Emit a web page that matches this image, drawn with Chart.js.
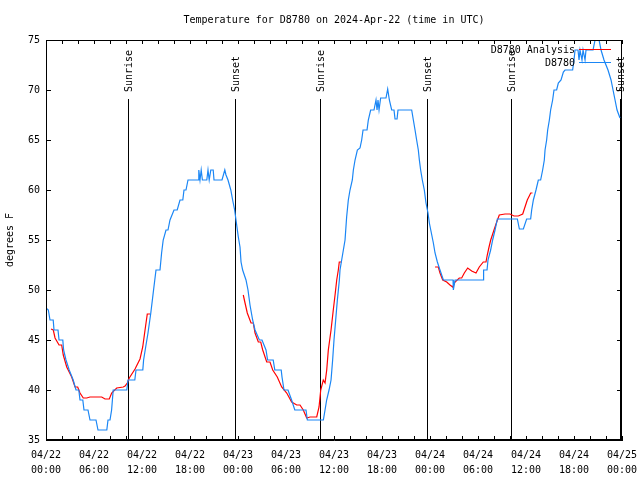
<!DOCTYPE html>
<html>
<head>
<meta charset="utf-8">
<script src="https://cdn.jsdelivr.net/npm/chart.js@4.4.1/dist/chart.umd.min.js"></script>
<style>
  html,body{margin:0;background:#fff}
  #wrap{width:640px;height:480px}
</style>
</head>
<body>
<div id="wrap"><canvas id="chart" width="640" height="480"></canvas></div>
<script>
// data (hours since 04/22 00:00 UTC, deg F)
const obsHours = [0,0.29,0.5,0.9,1,1.5,1.63,2.1,2.2,2.5,2.9,3.4,3.75,4.1,4.25,4.6,4.75,5.25,5.5,6.25,6.5,7.6,7.75,8,8.2,8.4,10.1,10.25,11.1,11.25,12.1,12.2,12.5,12.75,13.1,13.4,13.75,14.25,14.45,14.65,15,15.25,15.5,16,16.4,16.75,17.1,17.25,17.5,17.75,19,19.1,19.25,19.4,19.55,20.1,20.25,20.4,20.6,20.9,21,21.75,22,22.35,22.5,22.75,23.1,23.33,23.58,23.75,24.04,24.25,24.38,24.58,25,25.25,25.5,25.83,26.13,26.67,27,27.5,27.7,28.4,28.6,29.4,29.5,29.75,30.25,30.7,31.1,32.5,32.67,34.67,34.88,35.08,35.38,35.63,35.83,36,36.21,36.42,36.67,36.75,36.96,37.17,37.38,37.58,37.79,38,38.29,38.42,38.63,38.92,39.25,39.46,39.63,40.13,40.29,40.58,41,41.25,41.38,41.5,41.63,41.83,42.5,42.71,42.92,43.21,43.5,43.63,43.88,44,45.71,45.92,46.13,46.33,46.54,46.67,46.83,47.04,47.29,47.5,47.75,47.92,48.17,48.42,48.63,48.92,49.25,49.67,50.88,50.92,51.13,54.63,54.7,55.13,55.25,55.58,55.83,56.13,56.42,58.92,59.17,59.67,60.08,60.58,60.71,60.92,61.25,61.54,61.83,62.08,62.29,62.38,62.58,62.71,62.92,63.08,63.33,63.5,63.83,64.04,64.38,64.67,64.88,65.58,65.83,66,66.13,66.5,66.63,66.75,67,67.13,67.38,67.5,68.38,68.63,68.88,69.13,69.38,69.75,70.25,70.63,70.88,71.13,71.38,71.75];
const obsTemps = [48.2,48,47,47,46,46,45,45,44,43,42,41,40,40,39,39,38,38,37,37,36,36,37,37,38,40,40,41,41,42,42,43,44.5,45.7,47.7,49.7,52,52,53.7,55,56,56,57,58,58,59,59,60,60,61,61,62,61,62,61,61,62,61,62,62,61,61,61,62,61.5,61,60,59,58,57,55.3,54.3,52.8,52,51,50,48.5,47,46,45,45,44,43,43,42,42,41.3,40,40,39,38,38,37,37,38,39,40,41,43,45,47,49,51,52,53,54,55,57.3,59,60,61,62,63,64,64.2,65,66,66,67,68,68,69,68,69,68,69.2,69.2,70.1,69,68,68,67.1,67.1,68,68,67,66,65,64,63,62,61,60,58.7,57.7,56.7,55.7,54.7,53.7,52.8,52,51,51,50,51,51,52,52,53,54,55,56,57.1,57.1,56.1,56.1,57.1,57.1,58,59,60,61,61,62,63,64,65,66,67,68,69,70,70,70.7,71,71.8,72,72,72,73,74,74,73,74,73,74,73,74,74,75,75.5,75,74,73,72,71,70,69,68,67.2];

// analysis runs, null = break between runs
const anaHours = [0.63,0.91,1.13,1.63,1.96,2.16,2.59,3.21,3.63,3.96,4.25,4.66,5.09,5.5,6.96,7.38,7.91,8.21,8.84,9.66,9.88,10.16,10.41,11.13,11.75,12.09,12.38,12.66,13,18,24.66,24.88,25.16,25.63,25.91,26.13,26.54,26.84,27.09,27.59,28,28.34,28.91,29.46,30.09,30.71,31.34,31.75,32.16,32.59,33,33.84,34.13,34.34,34.66,34.88,35.09,35.29,35.63,35.91,36.16,36.34,36.54,36.66,36.96,42,48.63,49.04,49.25,49.59,50.09,50.5,50.84,51.13,51.66,51.96,52.29,52.71,53.21,53.75,54.16,54.66,55,55.16,55.38,55.59,56,56.34,56.66,57.38,58,58.5,59.04,59.59,59.75,60.16,60.59,60.81];
const anaTemps = [46.1,46,45.2,44.5,44.5,43.5,42.3,41.3,40.3,40.3,39.7,39.2,39.2,39.3,39.3,39.1,39.1,39.7,40.2,40.3,40.4,40.7,41.2,42.1,43.1,44.3,46,47.6,47.6,null,49.5,48.7,47.7,46.7,46.7,45.7,44.8,44.8,44,42.8,42.8,42,41.3,40.3,39.7,38.8,38.5,38.5,38,37.2,37.3,37.3,38.3,40,41,40.7,42,44,46,48,49.7,51,52,52.8,52.8,null,52.3,52.3,51.7,51,50.8,50.5,50.3,50.8,51.2,51.2,51.7,52.2,51.9,51.7,52.3,52.8,52.8,53.5,54.3,55,56,56.8,57.5,57.6,57.6,57.4,57.4,57.6,58,59,59.7,59.7];

const sunHours  = [10.28, 23.66, 34.25, 47.66, 58.17, 71.7];
const sunLabels = ['Sunrise','Sunset','Sunrise','Sunset','Sunrise','Sunset'];
const yTicks = [35, 40, 45, 50, 55, 60, 65, 70, 75];

const FONT = '10px "DejaVu Sans Mono", monospace';
const pts = (xs, ys) => xs.map((h, i) => ({ x: h, y: ys[i] }));
const pad2 = n => String(n).padStart(2, '0');

// gnuplot look: closed box, inward ticks, sun markers, key in the corner
const gnuplotBits = {
  id: 'gnuplotBits',
  beforeDatasetsDraw(chart){
    const { ctx, chartArea: a, scales: { x } } = chart;
    ctx.save();
    ctx.strokeStyle = '#000'; ctx.fillStyle = '#000'; ctx.lineWidth = 1; ctx.font = FONT;
    sunHours.forEach((h, i) => {
      const px = Math.round(x.getPixelForValue(h)) + 0.5;
      ctx.beginPath(); ctx.moveTo(px, a.top + 59); ctx.lineTo(px, a.bottom); ctx.stroke();
      ctx.save();
      ctx.translate(px + 1, a.top + 52); ctx.rotate(-Math.PI / 2);
      ctx.textAlign = 'left'; ctx.textBaseline = 'middle';
      ctx.fillText(sunLabels[i], 0, 0);
      ctx.restore();
    });
    ctx.restore();
  },
  afterDraw(chart){
    const { ctx, chartArea: a, scales: { x, y } } = chart;
    ctx.save();
    ctx.strokeStyle = '#000'; ctx.lineWidth = 1;
    ctx.strokeRect(a.left + 0.5, a.top + 0.5, a.right - a.left - 1, a.bottom - a.top - 1);
    ctx.beginPath();
    x.ticks.forEach(t => {
      const px = Math.round(x.getPixelForValue(t.value)) + 0.5;
      ctx.moveTo(px, a.bottom); ctx.lineTo(px, a.bottom - 4);
      ctx.moveTo(px, a.top); ctx.lineTo(px, a.top + 4);
    });
    y.ticks.forEach(t => {
      const py = Math.round(y.getPixelForValue(t.value)) + 0.5;
      ctx.moveTo(a.left, py); ctx.lineTo(a.left + 5, py);
      ctx.moveTo(a.right, py); ctx.lineTo(a.right - 5, py);
    });
    ctx.stroke();
    // key
    ctx.font = FONT; ctx.textAlign = 'right'; ctx.textBaseline = 'middle'; ctx.fillStyle = '#000';
    chart.data.datasets.forEach((ds, i) => {
      const ry = a.top + 10 + i * 13;
      ctx.fillText(ds.label, a.right - 47, ry);
      ctx.strokeStyle = ds.borderColor; ctx.lineWidth = 1;
      ctx.beginPath(); ctx.moveTo(a.right - 43, Math.round(ry) - 0.5); ctx.lineTo(a.right - 11, Math.round(ry) - 0.5); ctx.stroke();
    });
    ctx.restore();
  }
};

new Chart(document.getElementById('chart').getContext('2d'), {
  type: 'line',
  data: {
    datasets: [
      { label: 'D8780 Analysis', data: pts(anaHours, anaTemps), borderColor: '#ff0000', borderWidth: 1.2,
        pointRadius: 0, tension: 0, spanGaps: false, order: 2 },
      { label: 'D8780', data: pts(obsHours, obsTemps), borderColor: '#1a86f5', borderWidth: 1.2,
        pointRadius: 0, tension: 0, order: 1 }
    ]
  },
  options: {
    responsive: false, animation: false, devicePixelRatio: 1,
    layout: { padding: { top: 0, right: 18, left: 0, bottom: 0 } },
    plugins: {
      legend: { display: false },
      tooltip: { enabled: false },
      title: { display: true, fullSize: false, text: 'Temperature for D8780 on 2024-Apr-22 (time in UTC)',
        color: '#000', font: { family: '"DejaVu Sans Mono", monospace', size: 10, weight: 'normal', lineHeight: 1.2 },
        padding: { top: 14, bottom: 14 } }
    },
    scales: {
      x: {
        type: 'linear', min: 0, max: 72,
        grid: { display: false, drawTicks: false },
        border: { display: true, color: '#000' },
        afterFit: s => { s.height = 40; s.paddingLeft = 0; s.paddingRight = 0; },
        ticks: {
          stepSize: 2, autoSkip: false, maxRotation: 0, padding: 8, color: '#000',
          font: { family: '"DejaVu Sans Mono", monospace', size: 10, lineHeight: 1.5 },
          callback: v => v % 6 === 0 ? ['04/' + (22 + Math.floor(v / 24)), pad2(v % 24) + ':00'] : ''
        }
      },
      y: {
        min: 35, max: 75,
        grid: { display: false, drawTicks: false },
        border: { display: true, color: '#000' },
        afterFit: s => { s.width = 46; s.paddingTop = 0; s.paddingBottom = 0; },
        afterBuildTicks: s => { s.ticks = yTicks.map(v => ({ value: v })); },
        title: { display: true, text: 'degrees F', color: '#000',
          font: { family: '"DejaVu Sans Mono", monospace', size: 10 }, padding: { top: 4, bottom: 4 } },
        ticks: { padding: 6, color: '#000', font: { family: '"DejaVu Sans Mono", monospace', size: 10 } }
      }
    }
  },
  plugins: [gnuplotBits]
});
</script>
</body>
</html>
